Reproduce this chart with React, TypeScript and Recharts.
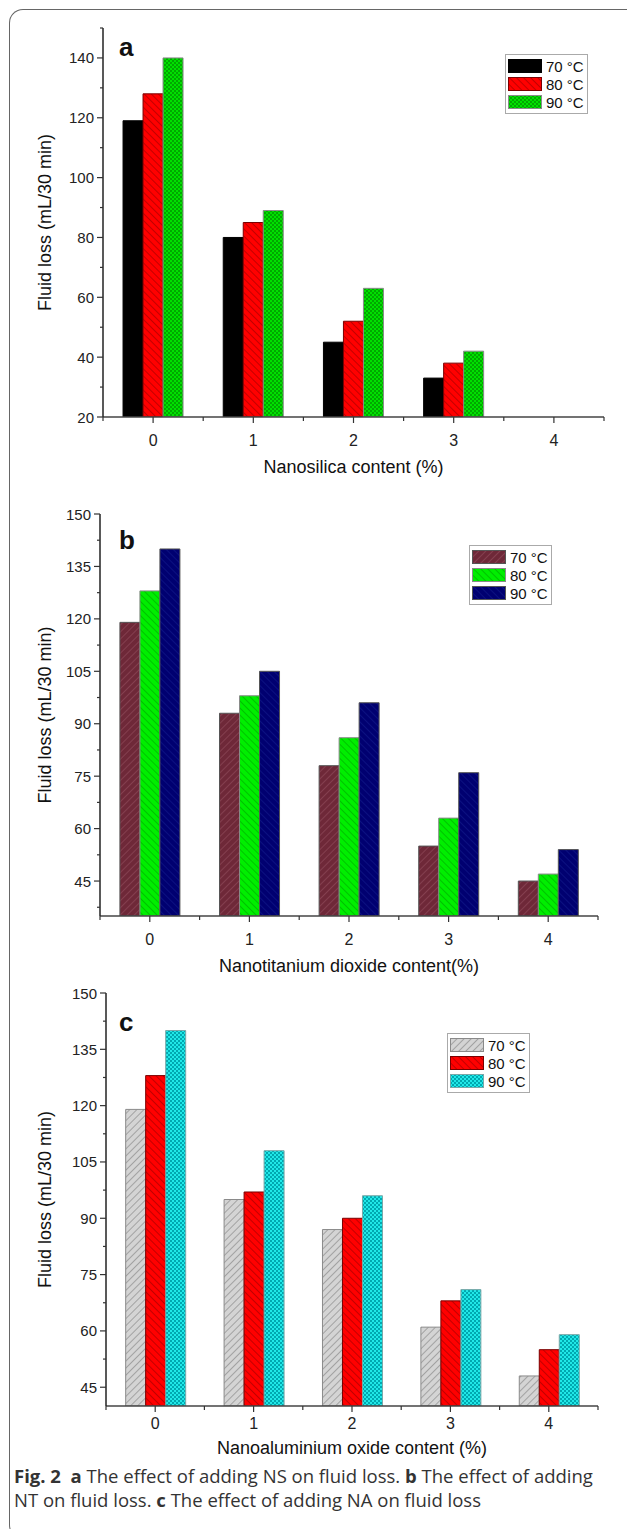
import React from 'react';
import { BarChart, Bar, XAxis, YAxis, Legend } from 'recharts';

const contents = ['0', '1', '2', '3', '4'];
const temps = ['70 °C', '80 °C', '90 °C'];

// (a) nanosilica, mL/30 min
const nsAt70 = [119, 80, 45, 33, null];
const nsAt80 = [128, 85, 52, 38, null];
const nsAt90 = [140, 89, 63, 42, null];

// (b) nanotitanium dioxide
const ntAt70 = [119, 93, 78, 55, 45];
const ntAt80 = [128, 98, 86, 63, 47];
const ntAt90 = [140, 105, 96, 76, 54];

// (c) nanoaluminium oxide
const naAt70 = [119, 95, 87, 61, 48];
const naAt80 = [128, 97, 90, 68, 55];
const naAt90 = [140, 108, 96, 71, 59];

const ticksA = [20, 30, 40, 50, 60, 70, 80, 90, 100, 110, 120, 130, 140, 150];
const ticksB = [37.5, 45, 52.5, 60, 67.5, 75, 82.5, 90, 97.5, 105, 112.5, 120, 127.5, 135, 142.5, 150];
const ticksC = [45, 52.5, 60, 67.5, 75, 82.5, 90, 97.5, 105, 112.5, 120, 127.5, 135, 142.5, 150];

const FONT = '"Liberation Sans", Arial, sans-serif';
const W = 627;

type Row = { name: string; t70: number | null; t80: number | null; t90: number | null };

const toRows = (a: (number | null)[], b: (number | null)[], c: (number | null)[]): Row[] =>
  contents.map((name, i) => ({ name, t70: a[i], t80: b[i], t90: c[i] }));

interface SeriesStyle {
  fill: string;
  stroke: string;
}

interface PanelProps {
  top: number;
  height: number;
  plotLeft: number;
  plotRight: number;
  plotTop: number;
  plotBottom: number;
  tickDy: number;
  titleDy: number;
  data: Row[];
  series: SeriesStyle[];
  domain: [number, number];
  ticks: number[];
  labelStart: number;
  labelStep: number;
  xTitle: string;
  letter: string;
  letterLeft: number;
  letterTop: number;
  legendLeft: number;
  legendTop: number;
}

const Patterns = () => (
  <svg width={0} height={0} style={{ position: 'absolute' }}>
    <defs>
      <pattern id="redHatch" width="5" height="5" patternUnits="userSpaceOnUse" patternTransform="rotate(-45)">
        <rect width="5" height="5" fill="#ff0000" />
        <line x1="0" y1="0" x2="0" y2="5" stroke="#a80000" strokeWidth="1.4" />
      </pattern>
      <pattern id="greenCheck" width="4" height="4" patternUnits="userSpaceOnUse">
        <rect width="4" height="4" fill="#00e000" />
        <rect width="2" height="2" fill="#00a800" />
        <rect x="2" y="2" width="2" height="2" fill="#00a800" />
      </pattern>
      <pattern id="maroonHatch" width="5" height="5" patternUnits="userSpaceOnUse" patternTransform="rotate(45)">
        <rect width="5" height="5" fill="#6e2838" />
        <line x1="0" y1="0" x2="0" y2="5" stroke="#8e4858" strokeWidth="1.4" />
      </pattern>
      <pattern id="limeHatch" width="5" height="5" patternUnits="userSpaceOnUse" patternTransform="rotate(-45)">
        <rect width="5" height="5" fill="#00ee00" />
        <line x1="0" y1="0" x2="0" y2="5" stroke="#00b000" strokeWidth="1.4" />
      </pattern>
      <pattern id="navyHatch" width="5" height="5" patternUnits="userSpaceOnUse" patternTransform="rotate(-45)">
        <rect width="5" height="5" fill="#000070" />
        <line x1="0" y1="0" x2="0" y2="5" stroke="#101888" strokeWidth="1.4" />
      </pattern>
      <pattern id="grayHatch" width="5" height="5" patternUnits="userSpaceOnUse" patternTransform="rotate(45)">
        <rect width="5" height="5" fill="#d4d4d4" />
        <line x1="0" y1="0" x2="0" y2="5" stroke="#8c8c8c" strokeWidth="1.4" />
      </pattern>
      <pattern id="cyanCheck" width="4" height="4" patternUnits="userSpaceOnUse">
        <rect width="4" height="4" fill="#20e8e8" />
        <rect width="2" height="2" fill="#00a8b0" />
        <rect x="2" y="2" width="2" height="2" fill="#00a8b0" />
      </pattern>
    </defs>
  </svg>
);

const Panel: React.FC<PanelProps> = (p) => {
  const band = (p.plotRight - p.plotLeft) / contents.length;
  const yAxisW = 60;

  const yTick = (props: any) => {
    const v = props.payload.value as number;
    const k = (v - p.labelStart) / p.labelStep;
    const isMajor = Math.abs(k - Math.round(k)) < 1e-6;
    const y = props.y;
    return (
      <g>
        <line x1={p.plotLeft - (isMajor ? 6 : 3)} x2={p.plotLeft} y1={y} y2={y} stroke="#333" strokeWidth={1.2} />
        {isMajor && (
          <text x={p.plotLeft - 9} y={y} dy={5.5} textAnchor="end" fontSize={15} fontFamily={FONT} fill="#222">
            {v}
          </text>
        )}
      </g>
    );
  };

  const xTick = (props: any) => {
    const x = props.x;
    const y0 = p.plotBottom;
    return (
      <g>
        <line x1={x} x2={x} y1={y0} y2={y0 + 6} stroke="#333" strokeWidth={1.2} />
        <line x1={x + band / 2} x2={x + band / 2} y1={y0} y2={y0 + 4} stroke="#333" strokeWidth={1.2} />
        {props.index === 0 && (
          <line x1={x - band / 2} x2={x - band / 2} y1={y0} y2={y0 + 4} stroke="#333" strokeWidth={1.2} />
        )}
        <text x={x} y={y0 + p.tickDy} textAnchor="middle" fontSize={16} fontFamily={FONT} fill="#222">
          {props.payload.value}
        </text>
      </g>
    );
  };

  const legendContent = () => (
    <div
      style={{
        border: '1px solid #aaa',
        background: '#fff',
        padding: '2px 3px 2px 2px',
        fontFamily: FONT,
        fontSize: 15,
        color: '#111',
      }}
    >
      {temps.map((t, i) => (
        <div key={t} style={{ display: 'flex', alignItems: 'center', height: 18 }}>
          <svg width={34} height={14}>
            <rect x={0.5} y={0.5} width={33} height={13} fill={p.series[i].fill} stroke={p.series[i].stroke} />
          </svg>
          <span style={{ marginLeft: 4, whiteSpace: 'nowrap' }}>{t}</span>
        </div>
      ))}
    </div>
  );

  return (
    <div style={{ position: 'absolute', left: 0, top: p.top, width: W, height: p.height }}>
      <BarChart
        width={W}
        height={p.height}
        data={p.data}
        barCategoryGap="20%"
        barGap={0}
        margin={{ top: p.plotTop, right: W - p.plotRight, bottom: 0, left: p.plotLeft - yAxisW }}
      >
        <XAxis
          dataKey="name"
          height={p.height - p.plotBottom}
          axisLine={{ stroke: '#444', strokeWidth: 1.5 }}
          tickLine={false}
          tick={xTick}
          interval={0}
          label={{
            content: (lp: any) => (
              <text
                x={lp.viewBox.x + lp.viewBox.width / 2}
                y={p.plotBottom + p.titleDy}
                textAnchor="middle"
                fontSize={18}
                fontFamily={FONT}
                fill="#111"
              >
                {p.xTitle}
              </text>
            ),
          }}
        />
        <XAxis xAxisId="top" dataKey="name" orientation="top" height={0} tick={false} tickLine={false} axisLine={{ stroke: '#b0b0b0', strokeWidth: 1.5 }} />
        <YAxis
          type="number"
          domain={p.domain}
          ticks={p.ticks}
          interval={0}
          width={yAxisW}
          allowDataOverflow
          axisLine={{ stroke: '#222', strokeWidth: 1.5 }}
          tickLine={false}
          tick={yTick}
          label={{
            content: (lp: any) => (
              <text
                x={46}
                y={lp.viewBox.y + lp.viewBox.height / 2}
                transform={`rotate(-90 46 ${lp.viewBox.y + lp.viewBox.height / 2})`}
                textAnchor="middle"
                dominantBaseline="middle"
                fontSize={18}
                fontFamily={FONT}
                fill="#111"
              >
                Fluid loss (mL/30 min)
              </text>
            ),
          }}
        />
        <YAxis yAxisId="right" orientation="right" width={0} tick={false} tickLine={false} axisLine={{ stroke: '#b0b0b0', strokeWidth: 1.5 }} />
        <Legend
          layout="vertical"
          align="center"
          verticalAlign="middle"
          content={legendContent}
          wrapperStyle={{ position: 'absolute', left: p.legendLeft, top: p.legendTop, width: 'auto' }}
        />
        <Bar dataKey="t70" name={temps[0]} fill={p.series[0].fill} stroke={p.series[0].stroke} strokeWidth={1} isAnimationActive={false} />
        <Bar dataKey="t80" name={temps[1]} fill={p.series[1].fill} stroke={p.series[1].stroke} strokeWidth={1} isAnimationActive={false} />
        <Bar dataKey="t90" name={temps[2]} fill={p.series[2].fill} stroke={p.series[2].stroke} strokeWidth={1} isAnimationActive={false} />
      </BarChart>
      <div
        style={{
          position: 'absolute',
          left: p.letterLeft,
          top: p.letterTop,
          fontFamily: FONT,
          fontWeight: 'bold',
          fontSize: 26,
          lineHeight: '26px',
          color: '#111',
        }}
      >
        {p.letter}
      </div>
    </div>
  );
};

export default function App() {
  return (
    <div
      style={{
        position: 'absolute',
        left: 0,
        top: 0,
        width: W,
        height: 1529,
        overflow: 'hidden',
        background: '#fff',
      }}
    >
      <Patterns />
      <div
        style={{
          position: 'absolute',
          left: 9,
          top: 9,
          width: 700,
          height: 1528,
          borderLeft: '1.5px solid #666',
          borderTop: '1.5px solid #666',
          borderBottom: '1.5px solid #666',
          borderTopLeftRadius: 14,
          borderBottomLeftRadius: 14,
        }}
      />
      <Panel
        top={0}
        height={480}
        plotLeft={103}
        plotRight={604}
        plotTop={28}
        plotBottom={417}
        tickDy={29}
        titleDy={56}
        data={toRows(nsAt70, nsAt80, nsAt90)}
        series={[
          { fill: '#000000', stroke: '#000000' },
          { fill: 'url(#redHatch)', stroke: '#7a0000' },
          { fill: 'url(#greenCheck)', stroke: '#8a8a8a' },
        ]}
        domain={[20, 150]}
        ticks={ticksA}
        labelStart={20}
        labelStep={20}
        xTitle="Nanosilica content (%)"
        letter="a"
        letterLeft={119}
        letterTop={34}
        legendLeft={505}
        legendTop={54}
      />
      <Panel
        top={490}
        height={495}
        plotLeft={100}
        plotRight={598}
        plotTop={24}
        plotBottom={426}
        tickDy={29}
        titleDy={56}
        data={toRows(ntAt70, ntAt80, ntAt90)}
        series={[
          { fill: 'url(#maroonHatch)', stroke: '#555555' },
          { fill: 'url(#limeHatch)', stroke: '#8a8a8a' },
          { fill: 'url(#navyHatch)', stroke: '#555555' },
        ]}
        domain={[35, 150]}
        ticks={ticksB}
        labelStart={45}
        labelStep={15}
        xTitle="Nanotitanium dioxide content(%)"
        letter="b"
        letterLeft={119}
        letterTop={37}
        legendLeft={469}
        legendTop={55}
      />
      <Panel
        top={970}
        height={490}
        plotLeft={106}
        plotRight={598}
        plotTop={23}
        plotBottom={436}
        tickDy={23}
        titleDy={48}
        data={toRows(naAt70, naAt80, naAt90)}
        series={[
          { fill: 'url(#grayHatch)', stroke: '#8a8a8a' },
          { fill: 'url(#redHatch)', stroke: '#7a0000' },
          { fill: 'url(#cyanCheck)', stroke: '#7aa8a8' },
        ]}
        domain={[40, 150]}
        ticks={ticksC}
        labelStart={45}
        labelStep={15}
        xTitle="Nanoaluminium oxide content (%)"
        letter="c"
        letterLeft={119}
        letterTop={39}
        legendLeft={447}
        legendTop={63}
      />
      <div
        style={{
          position: 'absolute',
          left: 14,
          top: 1464,
          fontFamily: '"Open Sans", "Noto Sans", sans-serif',
          fontSize: 18.5,
          lineHeight: '24px',
          color: '#333',
          whiteSpace: 'nowrap',
        }}
      >
        <div>
          <b>Fig. 2</b>&nbsp;&nbsp;<b>a</b> The effect of adding NS on fluid loss. <b>b</b> The effect of adding
        </div>
        <div>
          NT on fluid loss. <b>c</b> The effect of adding NA on fluid loss
        </div>
      </div>
    </div>
  );
}
